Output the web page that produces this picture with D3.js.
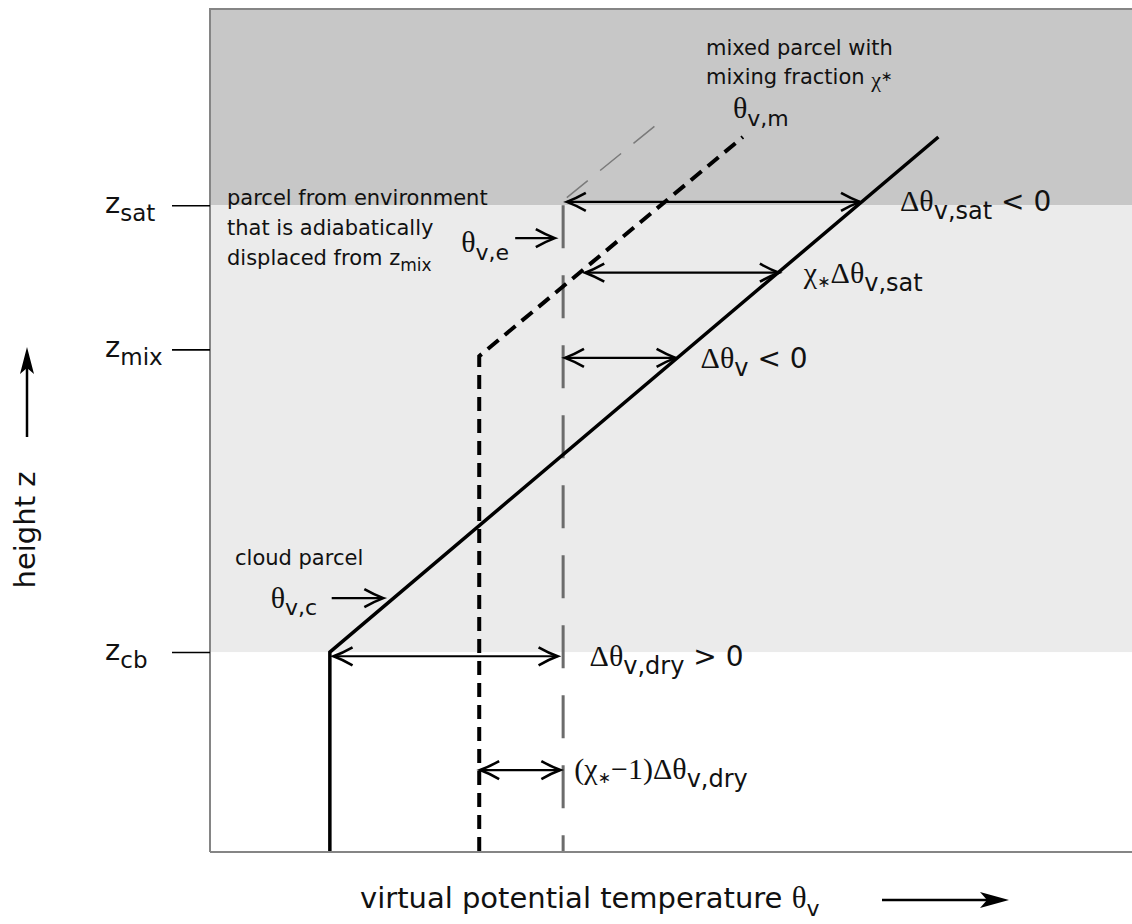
<!DOCTYPE html>
<html>
<head>
<meta charset="utf-8">
<script src="https://cdn.jsdelivr.net/npm/d3@7"></script>
<style>
  body { margin: 0; background: #fff; }
  svg { display: block; }
</style>
</head>
<body>
<div id="chart"></div>
<script>
// --- values (theta in K, z in arbitrary height units) ---
const theta_domain = [300, 310];
const z_domain = [0, 100];

const levels = [
    { name: 'sat', z: 76.6 },
    { name: 'mix', z: 59.5 },
    { name: 'cb', z: 23.6 }
];

const cloud_parcel = [[301.30, 0], [301.30, 23.6], [307.90, 84.7]];
const mixed_parcel = [[302.92, 0], [302.92, 58.7], [305.78, 84.7]];
const env_parcel = [[303.83, 76.6], [303.83, 0]];
const env_extension = [[303.87, 77.5], [304.88, 86.5]];

const bands = [
    { from: 76.6, to: 100, color: '#c7c7c7' },
    { from: 23.6, to: 76.6, color: '#ebebeb' }
];

// double headed arrows: [theta_from, theta_to], z
const diff_arrows = [
    { key: 'sat', z: 77.0, from: 303.87, to: 307.05 },
    { key: 'chi_sat', z: 68.6, from: 304.07, to: 306.17 },
    { key: 'dv', z: 58.5, from: 303.85, to: 305.05 },
    { key: 'dry', z: 23.1, from: 301.34, to: 303.77 },
    { key: 'chi_dry', z: 9.6, from: 302.93, to: 303.80 }
];

// single pointer arrows
const pointer_arrows = [
    { key: 'e', z: 72.7, from: 303.31, to: 303.74 },
    { key: 'c', z: 30.0, from: 301.32, to: 301.88 }
];

const SANS = '"DejaVu Sans", Verdana, sans-serif';
const SERIF = '"Liberation Serif", "Times New Roman", serif';

const width = 1132, height = 924;
const plot = { left: 210, right: 1132, top: 8, bottom: 851 };

const svg = d3.select('#chart').append('svg')
    .attr('width', width)
    .attr('height', height);

const x = d3.scaleLinear().domain(theta_domain).range([plot.left, plot.right]);
const y = d3.scaleLinear().domain(z_domain).range([plot.bottom, plot.top]);

const line = d3.line().x(d => x(d[0])).y(d => y(d[1]));

// background bands
svg.append('g').selectAll('rect')
    .data(bands)
    .join('rect')
    .attr('x', x(theta_domain[0]))
    .attr('width', x(theta_domain[1]) - x(theta_domain[0]))
    .attr('y', d => y(d.to))
    .attr('height', d => y(d.from) - y(d.to))
    .attr('fill', d => d.color);

// frame
const frame = svg.append('g').attr('stroke', '#858585').attr('stroke-width', 2).attr('fill', 'none');
frame.append('path').attr('d', `M${plot.left},${plot.top + 1}H${plot.right}`);
frame.append('path').attr('d', `M${plot.left},${plot.top}V${plot.bottom + 1}`);
frame.append('path').attr('d', `M${plot.left},${plot.bottom + 1}H${plot.right}`);

// level ticks on the left
const y_axis = d3.axisLeft(y)
    .tickValues(levels.map(l => l.z))
    .tickSize(38)
    .tickSizeOuter(0)
    .tickFormat('');
const y_axis_g = svg.append('g')
    .attr('transform', `translate(${plot.left},0)`)
    .call(y_axis);
y_axis_g.select('.domain').remove();
y_axis_g.selectAll('.tick line').attr('stroke', '#000').attr('stroke-width', 1.6);

// text with sub/superscript pieces
function rich_text (parent, px, py, parts) {
    const t = parent.append('text').attr('x', px).attr('y', py).attr('fill', '#111');
    let shift = 0;
    parts.forEach(function (p) {
        const off = p.dy || 0;
        t.append('tspan')
            .attr('dy', off - shift)
            .style('font-family', p.serif ? SERIF : SANS)
            .style('font-size', p.size + 'px')
            .text(p.t);
        shift = off;
    });
    return t;
}

levels.forEach(function (l) {
    rich_text(svg, 105, y(l.z) + 8, [
        { t: 'z', size: 29 },
        { t: l.name, size: 23, dy: 8 }
    ]);
});

// parcel lines
svg.append('path')
    .attr('d', line(env_parcel))
    .attr('fill', 'none')
    .attr('stroke', '#6c6c6c')
    .attr('stroke-width', 3)
    .attr('stroke-dasharray', '43,27');

svg.append('path')
    .attr('d', line(env_extension))
    .attr('fill', 'none')
    .attr('stroke', '#7a7a7a')
    .attr('stroke-width', 1.5)
    .attr('stroke-dasharray', '27,16');

svg.append('path')
    .attr('d', line(mixed_parcel))
    .attr('fill', 'none')
    .attr('stroke', '#000')
    .attr('stroke-width', 4)
    .attr('stroke-dasharray', '14,8');

svg.append('path')
    .attr('d', line(cloud_parcel))
    .attr('fill', 'none')
    .attr('stroke', '#000')
    .attr('stroke-width', 3.5);

// arrows
function chevron (parent, tx, ty, dir) {
    const L = 19, W = 9;
    parent.append('path')
        .attr('d', `M${tx - dir * L},${ty - W}Q${tx - dir * L * 0.45},${ty - W * 0.35} ${tx},${ty}` +
            `Q${tx - dir * L * 0.45},${ty + W * 0.35} ${tx - dir * L},${ty + W}`)
        .attr('fill', 'none')
        .attr('stroke', '#000')
        .attr('stroke-width', 2.6);
}

const arrows_g = svg.append('g');
diff_arrows.forEach(function (a) {
    const x1 = x(a.from), x2 = x(a.to), yy = y(a.z);
    arrows_g.append('line')
        .attr('x1', x1).attr('x2', x2)
        .attr('y1', yy).attr('y2', yy)
        .attr('stroke', '#000').attr('stroke-width', 2.2);
    chevron(arrows_g, x1, yy, -1);
    chevron(arrows_g, x2, yy, 1);
});
pointer_arrows.forEach(function (a) {
    const x1 = x(a.from), x2 = x(a.to), yy = y(a.z);
    arrows_g.append('line')
        .attr('x1', x1).attr('x2', x2 - 2)
        .attr('y1', yy).attr('y2', yy)
        .attr('stroke', '#000').attr('stroke-width', 2.2);
    chevron(arrows_g, x2, yy, 1);
});

// labels next to the arrows
const by_key = {};
diff_arrows.concat(pointer_arrows).forEach(a => by_key[a.key] = a);

const G = 30, SUB = 24, SUB_S = 22;
const STAR = { t: '∗', size: 16, dy: 4 };
rich_text(svg, x(by_key.sat.to) + 40, y(by_key.sat.z) + 9, [
    { t: 'Δθ', serif: true, size: G },
    { t: 'v,sat', size: SUB, dy: 8 },
    { t: ' < 0', size: 28 }
]);
rich_text(svg, x(by_key.chi_sat.to) + 25, y(by_key.chi_sat.z) + 10, [
    { t: 'χ', serif: true, size: G },
    STAR,
    { t: 'Δθ', serif: true, size: G },
    { t: 'v,sat', size: SUB, dy: 8 }
]);
rich_text(svg, x(by_key.dv.to) + 25, y(by_key.dv.z) + 10, [
    { t: 'Δθ', serif: true, size: G },
    { t: 'v', size: SUB, dy: 8 },
    { t: ' < 0', size: 28 }
]);
rich_text(svg, x(by_key.dry.to) + 32, y(by_key.dry.z) + 10, [
    { t: 'Δθ', serif: true, size: G },
    { t: 'v,dry', size: SUB, dy: 8 },
    { t: ' > 0', size: 28 }
]);
rich_text(svg, x(by_key.chi_dry.to) + 14, y(by_key.chi_dry.z) + 9, [
    { t: '(χ', serif: true, size: G },
    STAR,
    { t: '−1)Δθ', serif: true, size: G },
    { t: 'v,dry', size: SUB, dy: 8 }
]);
rich_text(svg, x(by_key.e.from) - 54, y(by_key.e.z) + 14, [
    { t: 'θ', serif: true, size: G },
    { t: 'v,e', size: SUB_S, dy: 8 }
]);
rich_text(svg, x(by_key.c.from) - 61, y(by_key.c.z) + 10, [
    { t: 'θ', serif: true, size: G },
    { t: 'v,c', size: SUB_S, dy: 7 }
]);
rich_text(svg, x(mixed_parcel[2][0]) - 10, y(mixed_parcel[2][1]) - 19, [
    { t: 'θ', serif: true, size: G },
    { t: 'v,m', size: SUB_S, dy: 8 }
]);

// notes
const notes = svg.append('g');
['parcel from environment', 'that is adiabatically'].forEach(function (s, i) {
    rich_text(notes, 227, 205 + i * 30, [{ t: s, size: 21 }]);
});
rich_text(notes, 227, 265, [
    { t: 'displaced from z', size: 21 },
    { t: 'mix', size: 17, dy: 6 }
]);
rich_text(notes, 706, 55, [{ t: 'mixed parcel with', size: 21 }]);
rich_text(notes, 706, 84, [
    { t: 'mixing fraction ', size: 21 },
    { t: 'χ', serif: true, size: 22, dy: 3 },
    { t: '∗', size: 14, dy: -3 }
]);
rich_text(notes, 235, 565, [{ t: 'cloud parcel', size: 21 }]);

// axis titles
rich_text(svg, 360, 908, [
    { t: 'virtual potential temperature ', size: 29 },
    { t: 'θ', serif: true, size: 31 },
    { t: 'v', size: 22, dy: 8 }
]);
svg.append('text')
    .attr('transform', 'translate(35,530) rotate(-90)')
    .attr('text-anchor', 'middle')
    .style('font-family', SANS)
    .style('font-size', '29px')
    .attr('fill', '#111')
    .text('height z');

// direction arrows
svg.append('line').attr('x1', 27).attr('x2', 27).attr('y1', 437).attr('y2', 360)
    .attr('stroke', '#000').attr('stroke-width', 2.5);
svg.append('path').attr('d', 'M27,347L20,374L27,368L34,374Z').attr('fill', '#000');
svg.append('line').attr('x1', 882).attr('x2', 995).attr('y1', 900).attr('y2', 900)
    .attr('stroke', '#000').attr('stroke-width', 2.5);
svg.append('path').attr('d', 'M1009,900L980,892L987,900L980,908Z').attr('fill', '#000');
</script>
</body>
</html>
